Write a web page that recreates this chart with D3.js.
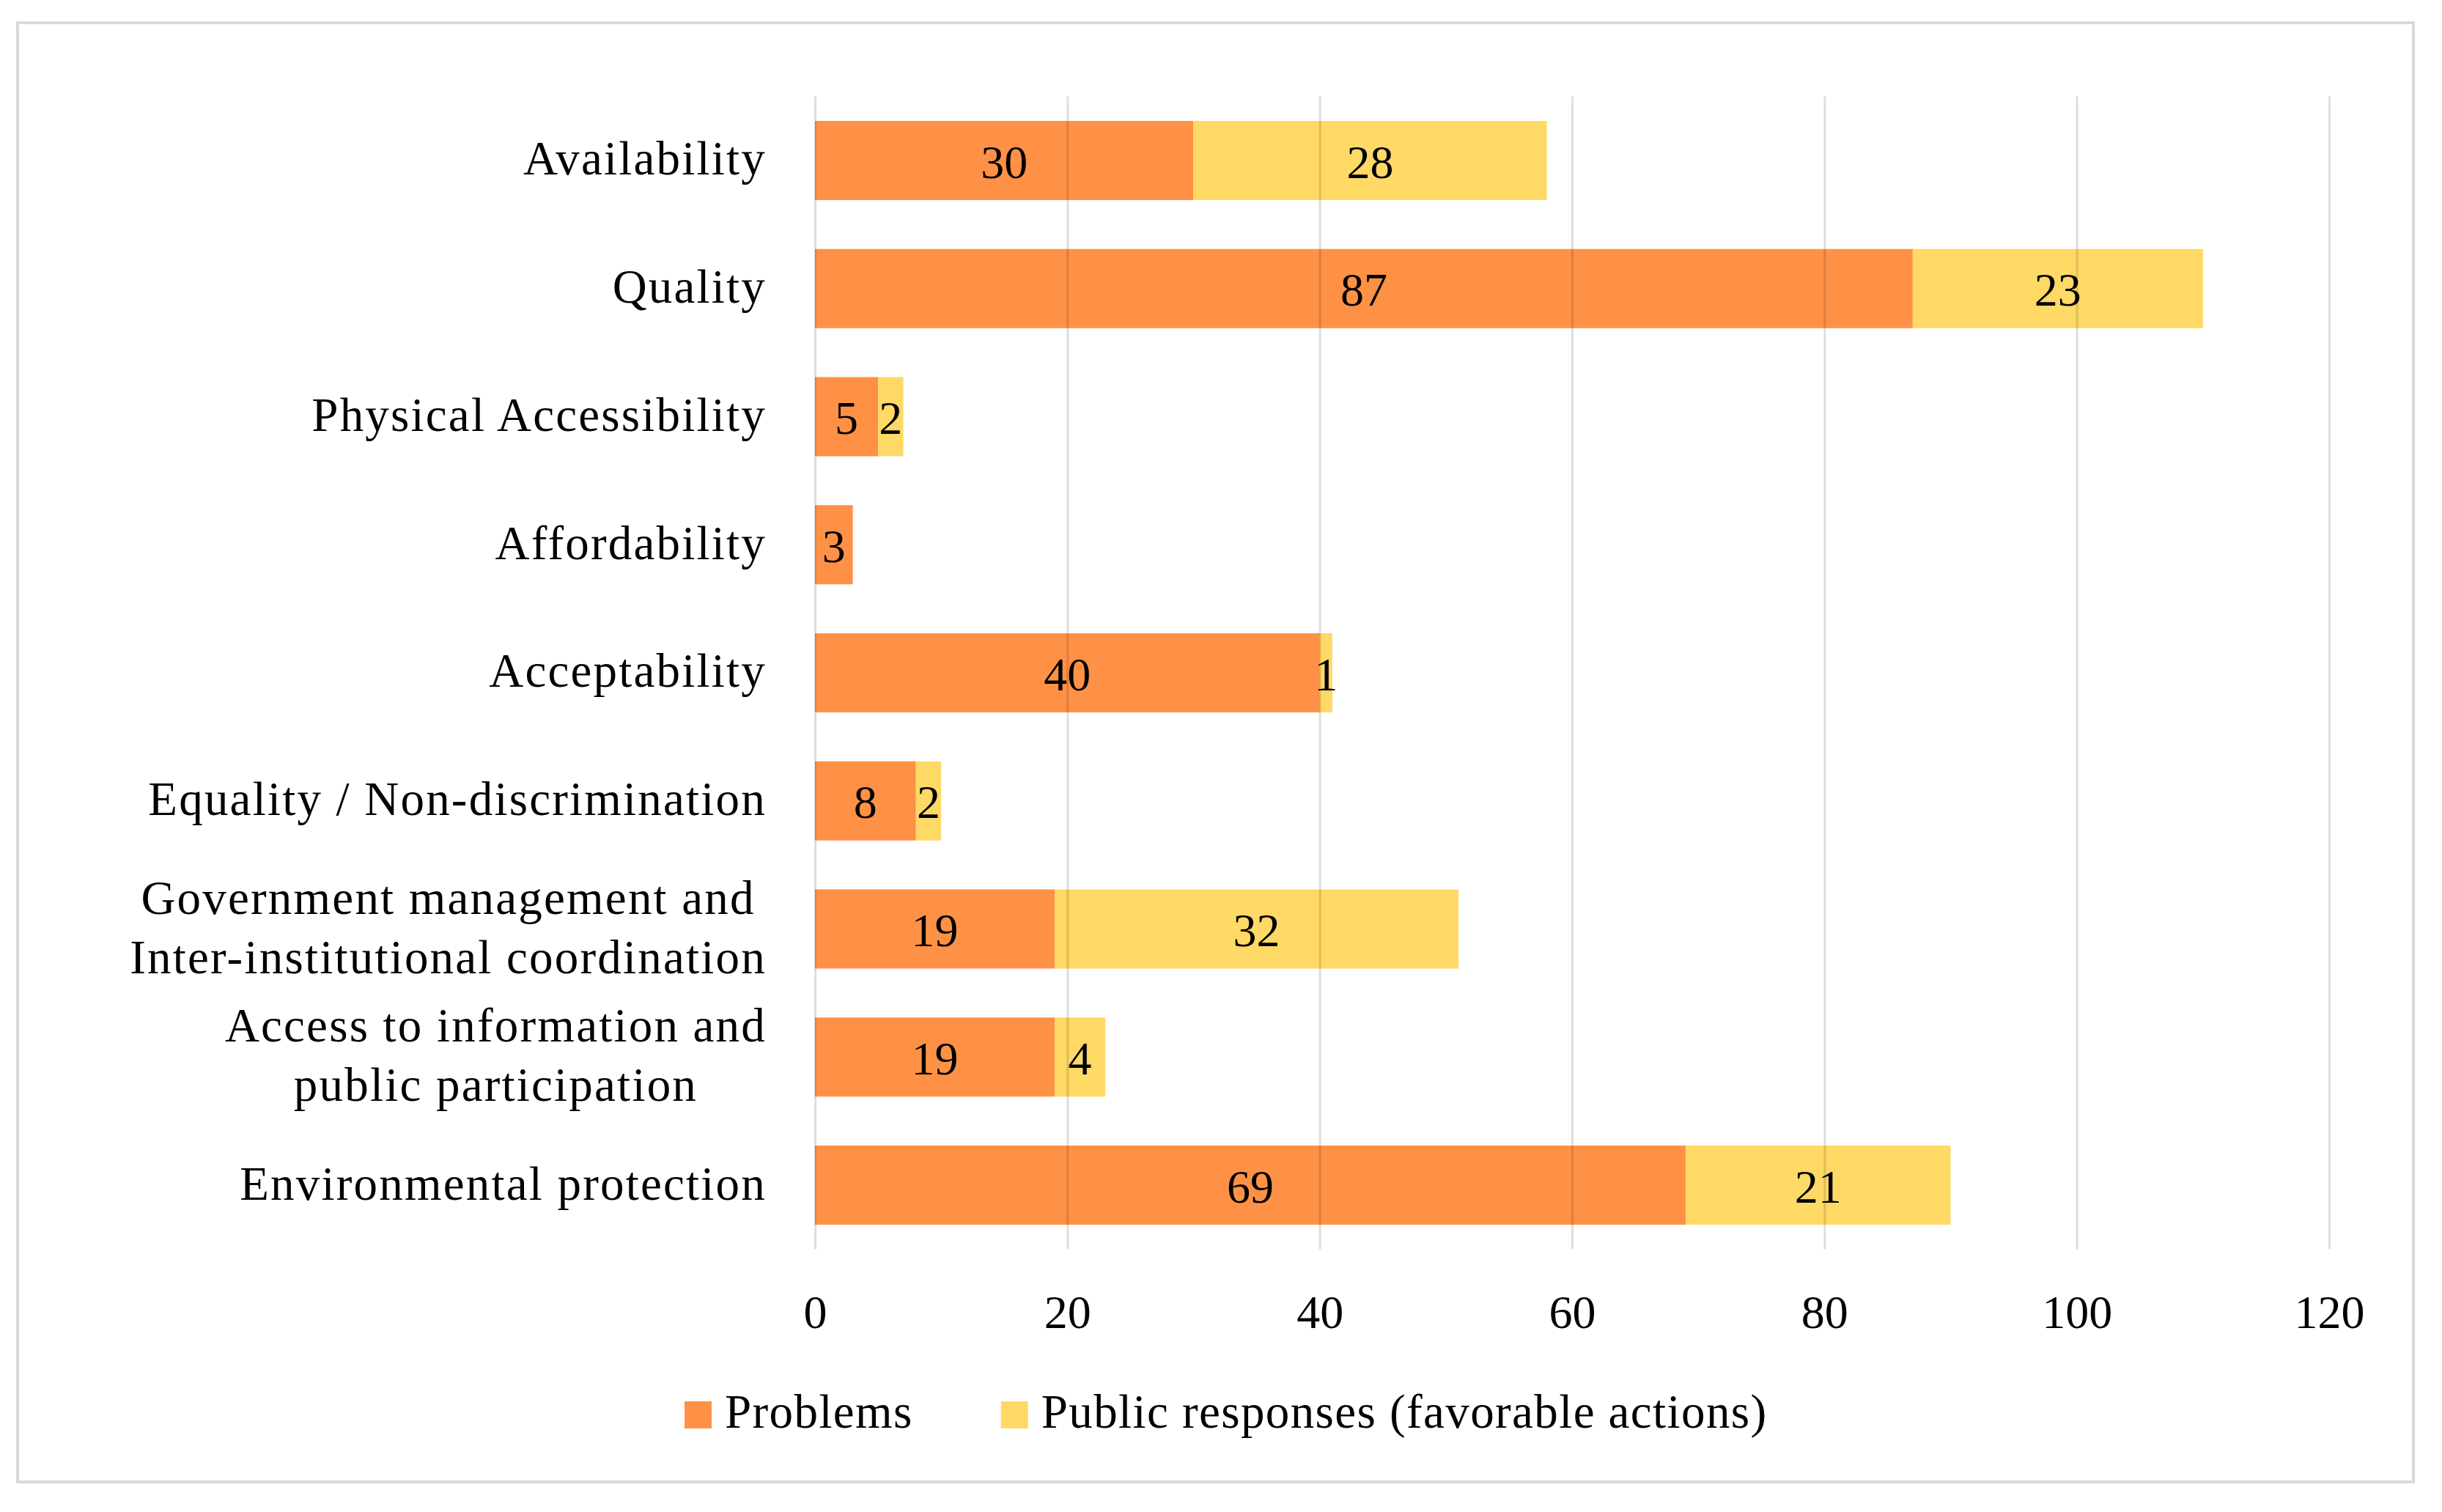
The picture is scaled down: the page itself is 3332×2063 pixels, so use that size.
<!DOCTYPE html>
<html>
<head>
<meta charset="utf-8">
<script src="https://cdn.jsdelivr.net/npm/d3@7"></script>
<style>
  body { margin: 0; background: #fff; }
  text { font-family: "Liberation Serif", "DejaVu Serif", serif; fill: #000; }
</style>
</head>
<body>
<svg id="chart"></svg>
<script>
// chart data
const categories = [
  ["Availability"],
  ["Quality"],
  ["Physical Accessibility"],
  ["Affordability"],
  ["Acceptability"],
  ["Equality / Non-discrimination"],
  ["Government management and", "Inter-institutional coordination"],
  ["Access to information and", "public participation"],
  ["Environmental protection"]
];
const problems = [30, 87, 5, 3, 40, 8, 19, 19, 69];
const responses = [28, 23, 2, 0, 1, 2, 32, 4, 21];
const seriesNames = ["Problems", "Public responses (favorable actions)"];
const xTicks = [0, 20, 40, 60, 80, 100, 120];

const width = 3332;
const height = 2063;
const margin = { top: 131.6, left: 1112 };
const chartWidth = 3178 - margin.left;
const chartHeight = 1704.4 - margin.top;
const colors = ["#FF9146", "#FFD966"];
const numSize = 64;
const labelSize = 65;

const svg = d3.select('#chart')
    .attr('width', width)
    .attr('height', height);

// outer frame
svg.append('rect')
    .attr('x', 24).attr('y', 31)
    .attr('width', 3269).attr('height', 1991)
    .attr('fill', 'white')
    .attr('stroke', '#d9d9d9')
    .attr('stroke-width', 4);

const g = svg.append('g')
    .attr('transform', `translate(${margin.left},${margin.top})`);

const xScale = d3.scaleLinear()
    .domain([0, 120])
    .range([0, chartWidth]);

const yScale = d3.scaleBand()
    .domain(d3.range(categories.length))
    .range([0, chartHeight])
    .paddingInner(0.382)
    .paddingOuter(0.191);

const rows = categories.map((c, i) => ({ i: i, p: problems[i], r: responses[i] }));

// bars
g.selectAll('.bar-p')
    .data(rows)
    .enter()
    .append('rect')
    .attr('class', 'bar-p')
    .attr('x', xScale(0))
    .attr('y', d => yScale(d.i))
    .attr('width', d => xScale(d.p) - xScale(0))
    .attr('height', yScale.bandwidth())
    .attr('fill', colors[0]);

g.selectAll('.bar-r')
    .data(rows.filter(d => d.r > 0))
    .enter()
    .append('rect')
    .attr('class', 'bar-r')
    .attr('x', d => xScale(d.p))
    .attr('y', d => yScale(d.i))
    .attr('width', d => xScale(d.p + d.r) - xScale(d.p))
    .attr('height', yScale.bandwidth())
    .attr('fill', colors[1]);

// gridlines (drawn over the bars, faint)
const grid = g.append('g')
    .attr('transform', `translate(0,${chartHeight})`)
    .call(d3.axisBottom(xScale).tickValues(xTicks).tickSize(0).tickFormat(''));
grid.select('.domain').remove();
grid.selectAll('line')
    .attr('y1', 0)
    .attr('y2', -chartHeight)
    .attr('stroke', 'rgba(0,0,0,0.13)')
    .attr('stroke-width', 3);

// x axis labels
const xAxis = g.append('g')
    .attr('transform', `translate(0,${chartHeight})`)
    .call(d3.axisBottom(xScale).tickValues(xTicks).tickSize(0));
xAxis.select('.domain').remove();
xAxis.selectAll('text')
    .attr('y', 1812 - 1704.4)
    .attr('dy', 0)
    .style('font-family', '"Liberation Serif", serif')
    .style('font-size', numSize + 'px')
    .attr('fill', '#000');

// value labels
g.selectAll('.lab-p')
    .data(rows)
    .enter()
    .append('text')
    .attr('x', d => xScale(d.p / 2))
    .attr('y', d => yScale(d.i) + yScale.bandwidth() / 2)
    .attr('dy', '0.37em')
    .attr('text-anchor', 'middle')
    .style('font-size', numSize + 'px')
    .text(d => d.p);

g.selectAll('.lab-r')
    .data(rows.filter(d => d.r > 0))
    .enter()
    .append('text')
    .attr('x', d => xScale(d.p + d.r / 2))
    .attr('y', d => yScale(d.i) + yScale.bandwidth() / 2)
    .attr('dy', '0.37em')
    .attr('text-anchor', 'middle')
    .style('font-size', numSize + 'px')
    .text(d => d.r);

// category labels: block right aligned, lines centred within block
const lineGap = 81;
categories.forEach((lines, i) => {
    const cy = yScale(i) + yScale.bandwidth() / 2;
    const grp = g.append('g');
    const texts = lines.map((t, k) => grp.append('text')
        .attr('y', cy + (k - (lines.length - 1) / 2) * lineGap)
        .attr('dy', '0.3em')
        .attr('text-anchor', 'middle')
        .style('font-size', labelSize + 'px')
        .style('letter-spacing', '2.2px')
        .text(t));
    const maxW = d3.max(texts, t => t.node().getComputedTextLength());
    texts.forEach(t => t.attr('x', -66 - maxW / 2));
});

// legend
const legend = svg.append('g').attr('transform', 'translate(0,1948)');
let lx = 934;
seriesNames.forEach((name, i) => {
    legend.append('rect')
        .attr('x', lx)
        .attr('y', -36)
        .attr('width', 37)
        .attr('height', 37)
        .attr('fill', colors[i]);
    const t = legend.append('text')
        .attr('x', lx + 55)
        .style('font-size', labelSize + 'px')
        .style('letter-spacing', '1.4px')
        .text(name);
    lx += 55 + t.node().getComputedTextLength() + 120;
});
</script>
</body>
</html>
